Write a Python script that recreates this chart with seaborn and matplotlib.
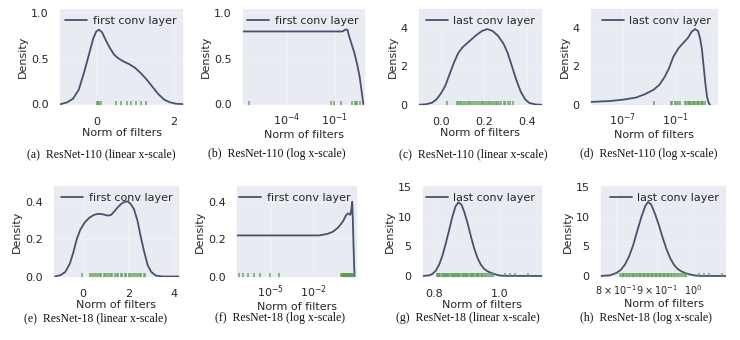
import matplotlib
matplotlib.use("Agg")
import matplotlib.pyplot as plt
import seaborn as sns
from matplotlib.ticker import FixedLocator, FixedFormatter, NullLocator

# ---------------- data ----------------
# (a) ResNet-110 first conv layer, linear x-scale
a_x = [-0.92, -0.75, -0.6, -0.45, -0.3, -0.18, -0.08, 0.0, 0.07, 0.15, 0.25, 0.35, 0.45, 0.55,
       0.7, 0.85, 1.0, 1.15, 1.3, 1.45, 1.6, 1.75, 1.9, 2.05, 2.26]
a_y = [0.0, 0.02, 0.06, 0.16, 0.37, 0.56, 0.72, 0.80, 0.82, 0.79, 0.70, 0.62, 0.55, 0.51,
       0.47, 0.44, 0.40, 0.34, 0.27, 0.19, 0.11, 0.05, 0.02, 0.005, 0.0]
a_rug = [0.01, 0.04, 0.06, 0.11, 0.50, 0.63, 0.78, 0.89, 1.02, 1.15, 1.28]

# (b) ResNet-110 first conv layer, log x-scale
b_x = [1.6e-7, 0.30, 0.45, 0.60, 0.76, 1.6, 2.5, 3.5, 5.0, 5.9]
b_y = [0.80, 0.80, 0.82, 0.82, 0.75, 0.57, 0.43, 0.30, 0.10, 0.0]
b_rug = [4.5e-7, 0.055, 0.085, 0.23, 1.1, 1.7, 2.0, 2.5, 3.5]

# (c) ResNet-110 last conv layer, linear x-scale
c_x = [-0.107, -0.07, -0.04, -0.02, 0.0, 0.02, 0.04, 0.06, 0.08, 0.1, 0.13, 0.16, 0.19, 0.215,
       0.24, 0.265, 0.29, 0.31, 0.33, 0.35, 0.37, 0.39, 0.41, 0.44, 0.474]
c_y = [0.0, 0.03, 0.12, 0.3, 0.6, 1.0, 1.6, 2.2, 2.7, 3.0, 3.3, 3.6, 3.85, 3.95,
       3.85, 3.6, 3.2, 2.7, 2.0, 1.3, 0.7, 0.3, 0.1, 0.02, 0.0]
c_rug = [0.026, 0.073, 0.08, 0.089, 0.094, 0.103, 0.111, 0.119, 0.128, 0.136, 0.146, 0.154, 0.163, 0.171,
         0.181, 0.19, 0.197, 0.206, 0.212, 0.221, 0.229, 0.237, 0.244, 0.254, 0.261, 0.271, 0.279,
         0.291, 0.298, 0.311, 0.322, 0.335]

# (d) ResNet-110 last conv layer, log x-scale
d_x = [1.6e-11, 3.2e-9, 1e-7, 3.2e-6, 3.2e-5, 3.2e-4, 1.6e-3, 6.3e-3, 0.02, 0.063, 0.25, 1.0,
       3.2, 7.9, 20, 45, 79, 126, 200, 316, 500, 794, 1120]
d_y = [0.15, 0.2, 0.27, 0.38, 0.55, 0.78, 1.05, 1.45, 1.9, 2.5, 2.95, 3.25,
       3.5, 3.8, 3.95, 3.85, 3.45, 2.9, 2.0, 1.1, 0.4, 0.08, 0.0]
d_rug = [4e-4, 0.032, 0.05, 0.089, 0.14, 0.25, 0.4, 1.4, 2.0, 2.8, 4.0, 5.6, 7.9, 11, 16, 22, 32,
         45, 63, 89, 126, 178, 251]

# (e) ResNet-18 first conv layer, linear x-scale
e_x = [-1.2, -0.95, -0.75, -0.55, -0.4, -0.25, -0.1, 0.1, 0.3, 0.5, 0.7, 0.9, 1.1, 1.25, 1.4,
       1.55, 1.7, 1.85, 1.96, 2.1, 2.25, 2.4, 2.55, 2.7, 2.85, 3.0, 3.2, 3.5, 4.26]
e_y = [0.0, 0.008, 0.025, 0.07, 0.13, 0.2, 0.25, 0.29, 0.315, 0.33, 0.336, 0.333, 0.326, 0.33, 0.35,
       0.372, 0.39, 0.40, 0.402, 0.39, 0.36, 0.30, 0.21, 0.13, 0.06, 0.025, 0.005, 0.0, 0.0]
e_rug = [-0.03, 0.33, 0.41, 0.52, 0.57, 0.66, 0.77, 0.82, 0.93, 0.99, 1.09, 1.16, 1.26, 1.31, 1.43,
         1.49, 1.57, 1.68, 1.74, 1.84, 1.91, 2.01, 2.07, 2.18, 2.24, 2.34, 2.41, 2.51, 2.57, 2.67, 2.73]

# (f) ResNet-18 first conv layer, log x-scale
f_x = [3.3e-8, 0.025, 0.1, 0.25, 0.63, 1.26, 2.0, 2.8, 3.55, 4.27, 5.0, 5.75, 6.3, 7.1, 7.9, 8.5]
f_y = [0.22, 0.22, 0.228, 0.24, 0.265, 0.295, 0.325, 0.338, 0.335, 0.33, 0.36, 0.40, 0.32, 0.17, 0.05, 0.0]
f_rug = [5e-8, 1e-7, 2.5e-7, 6.3e-7, 1.6e-6, 7.9e-6, 4e-5, 1.0, 1.1, 1.22, 1.31, 1.45, 1.58, 1.7,
         1.86, 2.0, 2.2, 2.4, 2.6, 2.85, 3.1, 3.4, 3.7, 4.0, 4.4, 4.8, 5.3, 5.8, 6.3, 6.9, 7.6]

# (g) / (h) ResNet-18 last conv layer
g_x = [0.763, 0.785, 0.795, 0.805, 0.815, 0.825, 0.835, 0.845, 0.855, 0.865, 0.874, 0.883, 0.892,
       0.902, 0.912, 0.922, 0.932, 0.942, 0.952, 0.962, 0.972, 0.982, 0.995, 1.01, 1.131]
g_y = [0.0, 0.1, 0.35, 0.9, 1.9, 3.4, 5.4, 7.6, 9.9, 11.7, 12.4, 12.0, 10.7,
       8.8, 6.6, 4.6, 3.0, 1.9, 1.2, 0.8, 0.55, 0.35, 0.12, 0.02, 0.0]
h_x = [0.763, 0.785, 0.80, 0.81, 0.82, 0.83, 0.84, 0.85, 0.86, 0.87, 0.877, 0.885, 0.895,
       0.905, 0.915, 0.925, 0.935, 0.945, 0.955, 0.965, 0.978, 0.99, 1.005, 1.02, 1.102]
h_y = [0.0, 0.1, 0.5, 1.0, 1.9, 3.3, 5.2, 7.6, 9.9, 11.8, 12.45, 12.0, 10.4,
       8.5, 6.4, 4.5, 3.0, 1.9, 1.2, 0.8, 0.45, 0.25, 0.08, 0.0, 0.0]
gh_rug = [0.809, 0.812, 0.816, 0.819, 0.823, 0.826, 0.829, 0.833, 0.836, 0.84, 0.843, 0.846, 0.85,
          0.853, 0.857, 0.86, 0.863, 0.867, 0.87, 0.873, 0.877, 0.88, 0.884, 0.887, 0.89, 0.894,
          0.897, 0.901, 0.904, 0.908, 0.911, 0.915, 0.918, 0.922, 0.926, 0.929, 0.933, 0.937,
          0.941, 0.945, 0.949, 0.954, 0.959, 0.964, 0.969, 0.975, 0.98, 1.015, 1.03, 1.045, 1.085]

first_label = "first conv layer"
last_label = "last conv layer"
x_label = "Norm of filters"
y_label = "Density"
captions = ["(a)  ResNet-110 (linear x-scale)", "(b)  ResNet-110 (log x-scale)",
            "(c)  ResNet-110 (linear x-scale)", "(d)  ResNet-110 (log x-scale)",
            "(e)  ResNet-18 (linear x-scale)", "(f)  ResNet-18 (log x-scale)",
            "(g)  ResNet-18 (linear x-scale)", "(h)  ResNet-18 (log x-scale)"]

# ---------------- style ----------------
sns.set_theme(style="darkgrid", rc={
    "axes.facecolor": "#e9ebf2",
    "grid.color": "#f0f1f6",
    "grid.linewidth": 0.7,
    "text.color": "#262626",
    "axes.labelcolor": "#262626",
    "xtick.color": "#262626",
    "ytick.color": "#262626",
})
plt.rcParams["font.family"] = ["DejaVu Sans"]

LINE = "#48526f"
RUG = "#5a9a52"

fig = plt.figure(figsize=(7.4, 3.4), dpi=100)


def rect(l, t, r, b):
    return [l / 740, 1 - b / 340, (r - l) / 740, (b - t) / 340]


panels = [
    dict(x=a_x, y=a_y, rug=a_rug, lab=first_label, log=False, box=(59, 8, 184, 106),
         xlim=(-0.96, 2.26), ylim=(-0.02, 1.058), xt=[0, 2], yt=[0.0, 0.5, 1.0]),
    dict(x=b_x, y=b_y, rug=b_rug, lab=first_label, log=True, box=(242, 8, 366, 106),
         xlim=(10 ** -6.81, 10 ** 0.94), ylim=(-0.02, 1.058), xt=[1e-4, 1e-1], yt=[0.0, 0.5, 1.0]),
    dict(x=c_x, y=c_y, rug=c_rug, lab=last_label, log=False, box=(418, 8, 543, 106),
         xlim=(-0.107, 0.474), ylim=(-0.06, 5.05), xt=[0.0, 0.2, 0.4], yt=[0, 2, 4]),
    dict(x=d_x, y=d_y, rug=d_rug, lab=last_label, log=True, box=(590, 8, 719, 106),
         xlim=(10 ** -10.8, 10 ** 4.07), ylim=(-0.06, 5.05), xt=[1e-7, 1e-1], yt=[0, 2, 4]),
    dict(x=e_x, y=e_y, rug=e_rug, lab=first_label, log=False, box=(53, 185, 180, 278),
         xlim=(-1.29, 4.26), ylim=(-0.008, 0.49), xt=[0, 2, 4], yt=[0.0, 0.2, 0.4]),
    dict(x=f_x, y=f_y, rug=f_rug, lab=first_label, log=True, box=(236, 185, 358, 278),
         xlim=(10 ** -7.48, 10 ** 1.17), ylim=(-0.008, 0.49), xt=[1e-5, 1e-2], yt=[0.0, 0.2, 0.4]),
    dict(x=g_x, y=g_y, rug=gh_rug, lab=last_label, log=False, box=(422, 185, 543, 278),
         xlim=(0.763, 1.131), ylim=(-0.34, 15.3), xt=[0.8, 1.0], yt=[0, 5, 10, 15]),
    dict(x=h_x, y=h_y, rug=gh_rug, lab=last_label, log=True, box=(600, 185, 727, 278),
         xlim=(0.763, 1.102), ylim=(-0.34, 15.3), xt=[0.8, 0.9, 1.0], yt=[0, 5, 10, 15],
         xtl=[r"$\mathdefault{8\times10^{-1}}$", r"$\mathdefault{9\times10^{-1}}$", r"$\mathdefault{10^{0}}$"]),
]

cap_pos = [(101, 154), (277, 154), (473, 154), (649, 154),
           (95, 318), (280, 318), (468, 318), (646, 318)]

for p, cap, (cx, cy) in zip(panels, captions, cap_pos):
    ax = fig.add_axes(rect(*p["box"]))
    if p["log"]:
        ax.set_xscale("log")
    sns.lineplot(x=p["x"], y=p["y"], ax=ax, color=LINE, linewidth=1.3,
                 label=p["lab"], estimator=None, sort=False)
    sns.rugplot(x=p["rug"], ax=ax, height=0.055, color=RUG, alpha=0.8, linewidth=1.2)
    ax.set_xlim(*p["xlim"])
    ax.set_ylim(*p["ylim"])
    ax.xaxis.set_major_locator(FixedLocator(p["xt"]))
    ax.xaxis.set_minor_locator(NullLocator())
    if "xtl" in p:
        ax.xaxis.set_major_formatter(FixedFormatter(p["xtl"]))
        ax.tick_params(axis="x", labelsize=7, pad=-2.0)
    elif p["log"]:
        ax.tick_params(axis="x", labelsize=8, pad=-2.0)
    else:
        ax.tick_params(axis="x", labelsize=8, pad=2.0)
    ax.yaxis.set_major_locator(FixedLocator(p["yt"]))
    ax.tick_params(axis="y", labelsize=8, pad=1.5)
    ax.set_xlabel(x_label, fontsize=8, labelpad=1.0)
    ax.set_ylabel(y_label, fontsize=8, labelpad=2)
    ax.legend(loc="upper right", frameon=False, fontsize=8, handlelength=2.0,
              handletextpad=0.5, borderaxespad=0.3)
    fig.text(cx / 740, 1 - cy / 340, cap, ha="center", va="center",
             family="Liberation Serif", fontsize=8.5, color="#111111")

fig.savefig("out.png", dpi=100)
